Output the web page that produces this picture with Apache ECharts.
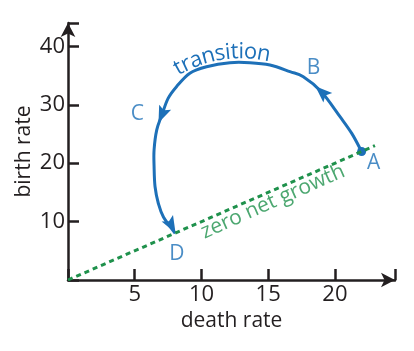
<!DOCTYPE html>
<html>
<head>
<meta charset="utf-8">
<style>
  html, body { margin: 0; padding: 0; background: #fff; }
  #chart { width: 414px; height: 351px; }
</style>
<script src="https://cdn.jsdelivr.net/npm/echarts@6/dist/echarts.min.js"></script>
</head>
<body>
<div id="chart"></div>
<script>
// 数据
var zeroGrowth = [[0, 0], [23, 23]];
var transitionPath = [
    [22.0, 22.0], [21.26, 25.1], [20.38, 27.96], [19.0, 32.2], [17.63, 34.8],
    [16.63, 35.67], [15.13, 36.8], [13.63, 37.2], [12.13, 37.2], [10.38, 36.5],
    [9.13, 35.4], [8.13, 33.1], [7.5, 31.1], [7.03, 28.25], [6.65, 25.7],
    [6.45, 22.3], [6.45, 19.4], [6.52, 16.0], [6.77, 13.1], [7.15, 10.8],
    [8.03, 8.0]
];
var startPoint = [[22.0, 22.0]];
// x, y, 方向角
var arrowHeads = [[19.0, 32.2, 47], [7.03, 28.25, 157], [7.75, 9.3, -151]];
var pointNames = [['A', 22.9, 20.0], ['B', 18.4, 36.3], ['C', 5.2, 28.4], ['D', 8.15, 4.4]];
var xTicks = [5, 10, 15, 20];
var yTicks = [10, 20, 30, 40];
var curveTitle = 'transition';

var blue = '#1d70b8', green = '#1f914c', ink = '#231f20';
var font = '"Open Sans", sans-serif';
var arrowPath = 'path://M5,0 L10,15 L5,12 L0,15 Z';

var myChart = echarts.init(document.getElementById('chart'));

var axisCommon = {
    type: 'value',
    min: 0,
    splitLine: {show: false},
    axisLine: {
        show: true,
        symbol: ['none', 'arrow'],
        symbolSize: [11, 14],
        lineStyle: {color: ink, width: 2.5}
    },
    axisTick: {show: true, inside: true, length: 11, lineStyle: {color: ink, width: 2.5}},
    nameLocation: 'middle',
    nameMoveOverlap: false,
    nameTextStyle: {color: ink, fontSize: 21, fontFamily: font}
};

// 沿弧线排列 "transition" 的每个字母
function arcText(str, cx, cy, r, startLen, size) {
    var ctx = document.createElement('canvas').getContext('2d');
    ctx.font = size + 'px "Open Sans"';
    var out = [], s = startLen;
    for (var i = 0; i < str.length; i++) {
        var w = ctx.measureText(str[i]).width;
        var th = (s + w / 2) / r;
        out.push({
            type: 'text',
            x: cx + r * Math.sin(th),
            y: cy - r * Math.cos(th),
            rotation: -th,
            style: {
                text: str[i], fill: blue, font: size + 'px ' + font,
                textAlign: 'center', textVerticalAlign: 'middle'
            }
        });
        s += w;
    }
    return out;
}

// 平滑曲线 (Catmull-Rom -> bezier)
function renderCurve(params, api) {
    if (params.dataIndex !== 0) return;
    var pts = transitionPath.map(function (p) { return api.coord(p); });
    var d = 'M' + pts[0][0] + ',' + pts[0][1];
    for (var i = 0; i < pts.length - 1; i++) {
        var p0 = pts[i - 1] || pts[i], p1 = pts[i], p2 = pts[i + 1], p3 = pts[i + 2] || pts[i + 1];
        var c1x = p1[0] + (p2[0] - p0[0]) / 6, c1y = p1[1] + (p2[1] - p0[1]) / 6;
        var c2x = p2[0] - (p3[0] - p1[0]) / 6, c2y = p2[1] - (p3[1] - p1[1]) / 6;
        d += ' C' + c1x + ',' + c1y + ' ' + c2x + ',' + c2y + ' ' + p2[0] + ',' + p2[1];
    }
    return {
        type: 'path',
        shape: {pathData: d},
        style: {fill: 'none', stroke: blue, lineWidth: 3}
    };
}

option = {
    animation: false,
    grid: {left: 68, right: 19, top: 23, bottom: 71},
    xAxis: echarts.util.merge({
        max: 24.5,
        interval: 5,
        name: 'death rate',
        nameGap: 31,
        axisLabel: {
            color: ink, fontSize: 22, fontFamily: font, margin: 4,
            formatter: function (v) { return xTicks.indexOf(v) > -1 ? v : ''; }
        }
    }, axisCommon),
    yAxis: echarts.util.merge({
        max: 44,
        interval: 10,
        name: 'birth rate',
        nameGap: 33,
        axisLabel: {
            color: ink, fontSize: 22, fontFamily: font, margin: 3,
            formatter: function (v) { return yTicks.indexOf(v) > -1 ? v : ''; }
        }
    }, axisCommon),
    graphic: arcText(curveTitle, 241, 180, 128, -69, 22),
    series: [
        {
            type: 'line',
            data: zeroGrowth,
            symbol: 'none',
            lineStyle: {color: green, width: 3, type: [5, 4]}
        },
        {
            type: 'custom',
            data: transitionPath,
            renderItem: renderCurve,
            clip: false
        },
        {
            type: 'scatter',
            data: arrowHeads.map(function (a) {
                return {value: [a[0], a[1]], symbolRotate: a[2]};
            }),
            symbol: arrowPath,
            symbolSize: [13, 17],
            itemStyle: {color: blue, opacity: 1}
        },
        {
            type: 'scatter',
            data: startPoint,
            symbolSize: 9,
            itemStyle: {color: blue, opacity: 1}
        },
        {
            type: 'scatter',
            data: pointNames.map(function (p) {
                return {value: [p[1], p[2]], label: {formatter: p[0]}};
            }),
            symbolSize: 0,
            label: {show: true, position: 'inside', color: blue, fontSize: 21, fontFamily: font}
        },
        {
            type: 'scatter',
            data: [
                {value: [15.35, 13.4], label: {formatter: 'zero net growth', rotate: 24, color: green}}
            ],
            symbolSize: 0,
            label: {show: true, position: 'inside', fontSize: 21, fontFamily: font}
        }
    ]
};
myChart.setOption(option);
</script>
</body>
</html>
